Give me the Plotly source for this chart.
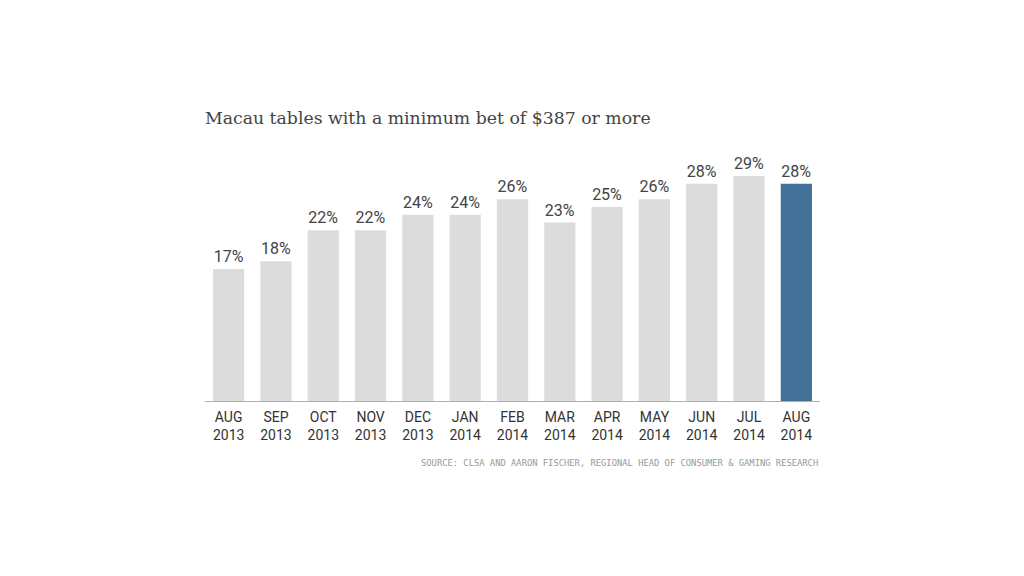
import plotly.graph_objects as go

months = ["AUG", "SEP", "OCT", "NOV", "DEC", "JAN", "FEB", "MAR", "APR", "MAY", "JUN", "JUL", "AUG"]
years = ["2013", "2013", "2013", "2013", "2013", "2014", "2014", "2014", "2014", "2014", "2014", "2014", "2014"]
values = [17, 18, 22, 22, 24, 24, 26, 23, 25, 26, 28, 29, 28]
labels = [f"{v}%" for v in values]
categories = [f"{m}<br>{y}" for m, y in zip(months, years)]
colors = ["#dcdcdc"] * (len(values) - 1) + ["#437096"]

fig = go.Figure(go.Bar(
    x=categories, y=values, text=labels, textposition="outside",
    marker=dict(color=colors, line=dict(width=0)),
    textfont=dict(family="Roboto, sans-serif", size=16, color="#444444"),
    cliponaxis=False, hoverinfo="skip",
))

fig.update_layout(
    width=1024, height=576,
    margin=dict(l=197, r=212, t=142, b=183),
    paper_bgcolor="white", plot_bgcolor="white",
    bargap=0.34, showlegend=False,
    xaxis=dict(type="category", range=[-0.5, 12.5], showgrid=False, showline=True, linecolor="#b0b0b0", linewidth=1,
               ticks="outside", ticklen=3, tickcolor="rgba(0,0,0,0)",
               tickfont=dict(family="Roboto, sans-serif", size=14, color="#333333")),
    yaxis=dict(range=[0, 32.35], visible=False, showgrid=False, zeroline=False),
    annotations=[
        dict(text="Macau tables with a minimum bet of $387 or more", xref="paper", yref="paper", x=-0.003, y=1.127,
             xanchor="left", yanchor="middle", showarrow=False,
             font=dict(family="DejaVu Serif, Liberation Serif, serif", size=17.3, color="#444444")),
        dict(text="SOURCE: CLSA AND AARON FISCHER, REGIONAL HEAD OF CONSUMER &amp; GAMING RESEARCH", xref="paper", yref="paper",
             x=1, y=-0.247, xanchor="right", yanchor="middle", showarrow=False,
             font=dict(family="DejaVu Sans Mono, monospace", size=8.8, color="#999999")),
    ],
)

fig.write_html("out.html")
